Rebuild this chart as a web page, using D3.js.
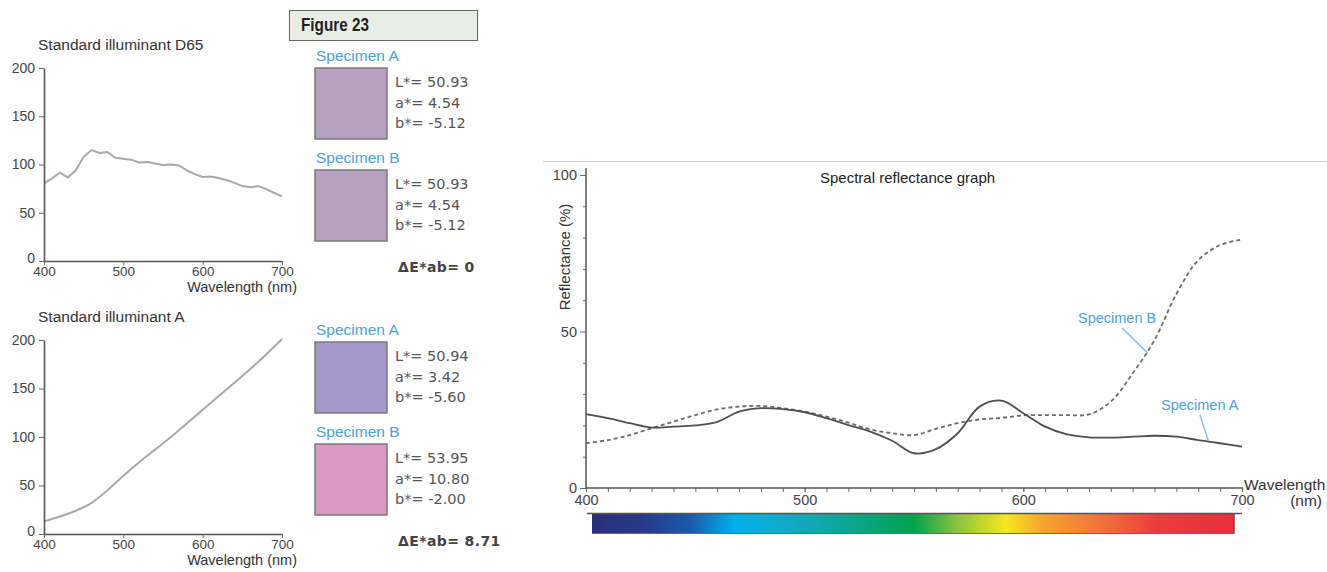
<!DOCTYPE html>
<html><head><meta charset="utf-8">
<script src="https://cdn.jsdelivr.net/npm/d3@7/dist/d3.min.js"></script>
<style>
body{margin:0;background:#fff;}
svg{display:block;font-family:"Liberation Sans",Arial,sans-serif;}
</style></head><body>
<svg id="c" width="1327" height="572"></svg>
<script>
// ---------------- DATA ----------------
const d65Wavelength = [400,410,420,430,440,450,460,470,480,490,500,510,520,530,540,550,560,570,580,590,600,610,620,630,640,650,660,670,680,690,700];
const d65Power      = [80.4,85.6,91.5,86.6,94,108,115,112,113,107,106,105,102,102.6,101,99.5,100,99,94,90,87,87.5,86,84,81,77.6,76.5,77.6,74.5,70.7,67];

const illumAWavelength = [400,420,440,460,480,500,520,540,560,580,600,620,640,660,680,700];
const illumAPower      = [13,18,24,32,45,60,74,87,100,114,128,142,156,170,185,201];

const reflWavelength = [400,410,420,430,440,450,460,470,480,490,500,510,520,530,540,550,560,570,580,590,600,610,620,630,640,650,660,670,680,690,700];
const specimenARefl  = [23.6,22.3,20.7,19.3,19.6,20.0,21.1,24.4,25.5,25.2,24.2,22.3,20.1,18.0,15.1,11.1,12.4,17.5,26.0,27.9,23.9,19.6,17.1,16.2,16.1,16.4,16.7,16.4,15.3,14.3,13.2];
const specimenBRefl  = [14.3,15.3,16.9,19.1,21.2,23.3,25.1,26.0,26.2,25.5,24.4,22.8,20.9,18.7,17.5,16.9,18.9,20.7,21.9,22.4,23.2,23.3,23.3,23.5,27.6,36.6,47.3,62.0,72.8,77.6,79.4];

const leftXTicks  = [400,500,600,700];
const leftYTicks  = [0,50,100,150,200];
const rightXTicks = [400,500,600,700];
const rightXMinor = [400,410,420,430,440,450,460,470,480,490,500,510,520,530,540,550,560,570,580,590,600,610,620,630,640,650,660,670,680,690,700];
const rightYTicks = [0,50,100];
const rightYMinor = [10,20,30,40,60,70,80,90];

const illuminantTitles = ["Standard illuminant D65","Standard illuminant A"];
const swatchNames  = ["Specimen A","Specimen B","Specimen A","Specimen B"];
const swatchL      = [50.93,50.93,50.94,53.95];
const swatchA      = [4.54,4.54,3.42,10.80];
const swatchB      = [-5.12,-5.12,-5.60,-2.00];
const swatchColors = ["#b7a1c1","#b7a1c1","#a698c9","#d899c5"];
const deltaE       = [0, 8.71];

const figureLabel = "Figure 23";
const reflTitle = "Spectral reflectance graph";

// spectrum colour bar stops
const spectrumOffsets = [0,0.08,0.15,0.22,0.30,0.38,0.50,0.57,0.645,0.70,0.81,0.88,1];
const spectrumColors  = ["#2a2f78","#283a8c","#1a57aa","#00b0e8","#13aacb","#10a69e","#03a14c","#8cc43e","#f6e81c","#f5a531","#ee6a3b","#e93d3d","#e8303c"];

// ---------------- DRAW ----------------
const svg = d3.select("#c");
svg.append("rect").attr("width",1327).attr("height",572).attr("fill","#fff");

const fmt2 = v => d3.format(".2f")(v).replace("\u2212","-");

// ---- left illuminant charts
const leftX = d3.scaleLinear().domain([400,700]).range([44,282]);
const leftCharts = [
  {title: illuminantTitles[0], wl: d65Wavelength, val: d65Power, y0: 261, y200: 68, curve: d3.curveLinear},
  {title: illuminantTitles[1], wl: illumAWavelength, val: illumAPower, y0: 534, y200: 340, curve: d3.curveMonotoneX}
];
leftCharts.forEach(c => {
  const y = d3.scaleLinear().domain([0,200]).range([c.y0, c.y200]);
  const g = svg.append("g");
  g.append("text").attr("x",38).attr("y",c.y200-18).text(c.title)
    .attr("font-size",15.5).attr("fill","#333");
  g.append("path")
    .attr("d", d3.line().x((d,i)=>leftX(c.wl[i])).y(d=>y(d)).curve(c.curve)(c.val))
    .attr("fill","none").attr("stroke","#a9a9a9").attr("stroke-width",2);
  const ya = g.append("g").attr("transform",`translate(${leftX(400)},0)`)
    .call(d3.axisLeft(y).tickValues(leftYTicks).tickSize(5).tickSizeOuter(0).tickPadding(4));
  const xa = g.append("g").attr("transform",`translate(0,${c.y0})`)
    .call(d3.axisBottom(leftX).tickValues(leftXTicks).tickSize(4).tickSizeOuter(0).tickPadding(1));
  [ya,xa].forEach(a=>{
    a.select(".domain").attr("stroke","#555").attr("stroke-width",1.6);
    a.selectAll(".tick line").attr("stroke","#666").attr("stroke-width",1);
    a.selectAll(".tick text").attr("font-size",14).attr("fill","#444").attr("font-family","Liberation Sans, Arial, sans-serif");
  });
  ya.selectAll(".tick text").filter(d => d === 0).attr("dy","0.08em");
  xa.selectAll(".tick text").attr("font-size",13.5);
  g.append("text").attr("x",297).attr("y",c.y0+31).attr("text-anchor","end")
    .text("Wavelength (nm)").attr("font-size",14.5).attr("fill","#333");
});

// ---- Figure label
svg.append("rect").attr("x",289.5).attr("y",10.5).attr("width",188).attr("height",30)
  .attr("fill","#e9eee4").attr("stroke","#666").attr("stroke-width",1);
svg.append("text").attr("transform","translate(301,31) scale(0.85,1)").text(figureLabel)
  .attr("font-weight","bold").attr("font-size",18).attr("fill","#222");

// ---- specimen swatches
const blockTops = [68,170,342,444];   // swatch top y
swatchNames.forEach((name,i) => {
  const t = blockTops[i];
  const g = svg.append("g");
  g.append("text").attr("x",316).attr("y",t-7).text(name)
    .attr("font-size",15.5).attr("fill","#4aa2dc");
  g.append("rect").attr("x",315).attr("y",t).attr("width",72).attr("height",71)
    .attr("fill",swatchColors[i]).attr("stroke","#7a7a7a").attr("stroke-width",1.5);
  const lines = ["L*= "+fmt2(swatchL[i]), "a*= "+fmt2(swatchA[i]), "b*= "+fmt2(swatchB[i])];
  lines.forEach((s,k)=>{
    g.append("text").attr("x",395).attr("y",t+19+k*20.5).text(s)
      .attr("font-family","'DejaVu Sans',Verdana,sans-serif").attr("font-size",14.5).attr("fill","#555");
  });
});
deltaE.forEach((v,i)=>{
  svg.append("text").attr("x",398).attr("y",[272,546][i]).text("\u0394E*ab= "+v)
    .attr("font-family","'DejaVu Sans',Verdana,sans-serif").attr("font-weight","bold")
    .attr("font-size",14).attr("fill","#444").attr("letter-spacing",0.4);
});

// ---- right reflectance chart
svg.append("line").attr("x1",543).attr("x2",1327).attr("y1",161.5).attr("y2",161.5)
  .attr("stroke","#c9ccd3").attr("stroke-width",1.2);

const rx = d3.scaleLinear().domain([400,700]).range([586,1242]);
const ry = d3.scaleLinear().domain([0,100]).range([488,175]);

svg.append("text").attr("x",820).attr("y",183).text(reflTitle).attr("font-size",15).attr("fill","#222");
svg.append("text").attr("transform",`translate(570,257) rotate(-90)`).attr("text-anchor","middle")
  .text("Reflectance (%)").attr("font-size",15).attr("fill","#333");

const ryMinor = svg.append("g").attr("transform",`translate(${rx(400)},0)`)
  .call(d3.axisLeft(ry).tickValues(rightYMinor).tickSize(3).tickFormat(""));
const ryMajor = svg.append("g").attr("transform",`translate(${rx(400)},0)`)
  .call(d3.axisLeft(ry).tickValues(rightYTicks).tickSize(6).tickSizeOuter(0).tickPadding(3));
const rxMinor = svg.append("g").attr("transform",`translate(0,${ry(0)})`)
  .call(d3.axisBottom(rx).tickValues(rightXMinor).tickSize(4).tickFormat(""));
const rxMajor = svg.append("g").attr("transform",`translate(0,${ry(0)})`)
  .call(d3.axisBottom(rx).tickValues(rightXTicks).tickSize(4).tickSizeOuter(0).tickPadding(3));
[ryMinor,ryMajor,rxMinor,rxMajor].forEach(a=>{
  a.select(".domain").remove();
  a.selectAll(".tick line").attr("stroke","#666").attr("stroke-width",1);
  a.selectAll(".tick text").attr("font-size",14.5).attr("fill","#444").attr("font-family","Liberation Sans, Arial, sans-serif");
});
svg.append("line").attr("x1",rx(400)).attr("x2",rx(400)).attr("y1",ry(0)).attr("y2",ry(102.2))
  .attr("stroke","#555").attr("stroke-width",1.5);
svg.append("line").attr("x1",rx(400)).attr("x2",rx(700)+1).attr("y1",ry(0)).attr("y2",ry(0))
  .attr("stroke","#555").attr("stroke-width",1.5);

svg.append("text").attr("x",1244).attr("y",490).text("Wavelength").attr("font-size",15.5).attr("fill","#333");
svg.append("text").attr("x",1322).attr("y",506).attr("text-anchor","end").text("(nm)").attr("font-size",15.5).attr("fill","#333");

// curves
const lineGen = d3.line().x((d,i)=>rx(reflWavelength[i])).y(d=>ry(d)).curve(d3.curveCatmullRom.alpha(0.5));
svg.append("path").attr("d",lineGen(specimenBRefl)).attr("fill","none")
  .attr("stroke","#6a6a6a").attr("stroke-width",1.8).attr("stroke-dasharray","4,3");
svg.append("path").attr("d",lineGen(specimenARefl)).attr("fill","none")
  .attr("stroke","#4f4f4f").attr("stroke-width",1.8);

// annotations
svg.append("line").attr("x1",1122).attr("y1",328).attr("x2",rx(657)).attr("y2",ry(43))
  .attr("stroke","#7ec6ea").attr("stroke-width",1.5);
svg.append("text").attr("x",1078).attr("y",323).text("Specimen B").attr("font-size",14.5).attr("fill","#4aa2dc");
svg.append("line").attr("x1",1200).attr("y1",415).attr("x2",rx(684.5)).attr("y2",ry(15.3))
  .attr("stroke","#7ec6ea").attr("stroke-width",1.5);
svg.append("text").attr("x",1161).attr("y",410).text("Specimen A").attr("font-size",14.5).attr("fill","#4aa2dc");

// spectrum bar
const defs = svg.append("defs");
const grad = defs.append("linearGradient").attr("id","spec").attr("x1","0%").attr("x2","100%");
spectrumOffsets.forEach((o,i)=>grad.append("stop").attr("offset",o).attr("stop-color",spectrumColors[i]));
svg.append("rect").attr("x",592).attr("y",514).attr("width",642).attr("height",19).attr("fill","url(#spec)");
svg.append("line").attr("x1",587).attr("x2",1242).attr("y1",513.5).attr("y2",513.5).attr("stroke","#555").attr("stroke-width",1.5);
svg.append("line").attr("x1",1234).attr("x2",1234).attr("y1",513).attr("y2",533.5).attr("stroke","#555").attr("stroke-width",1.5);
svg.append("line").attr("x1",592).attr("x2",1234).attr("y1",533.5).attr("y2",533.5).attr("stroke","#444").attr("stroke-width",0.8);
</script>
</body></html>
